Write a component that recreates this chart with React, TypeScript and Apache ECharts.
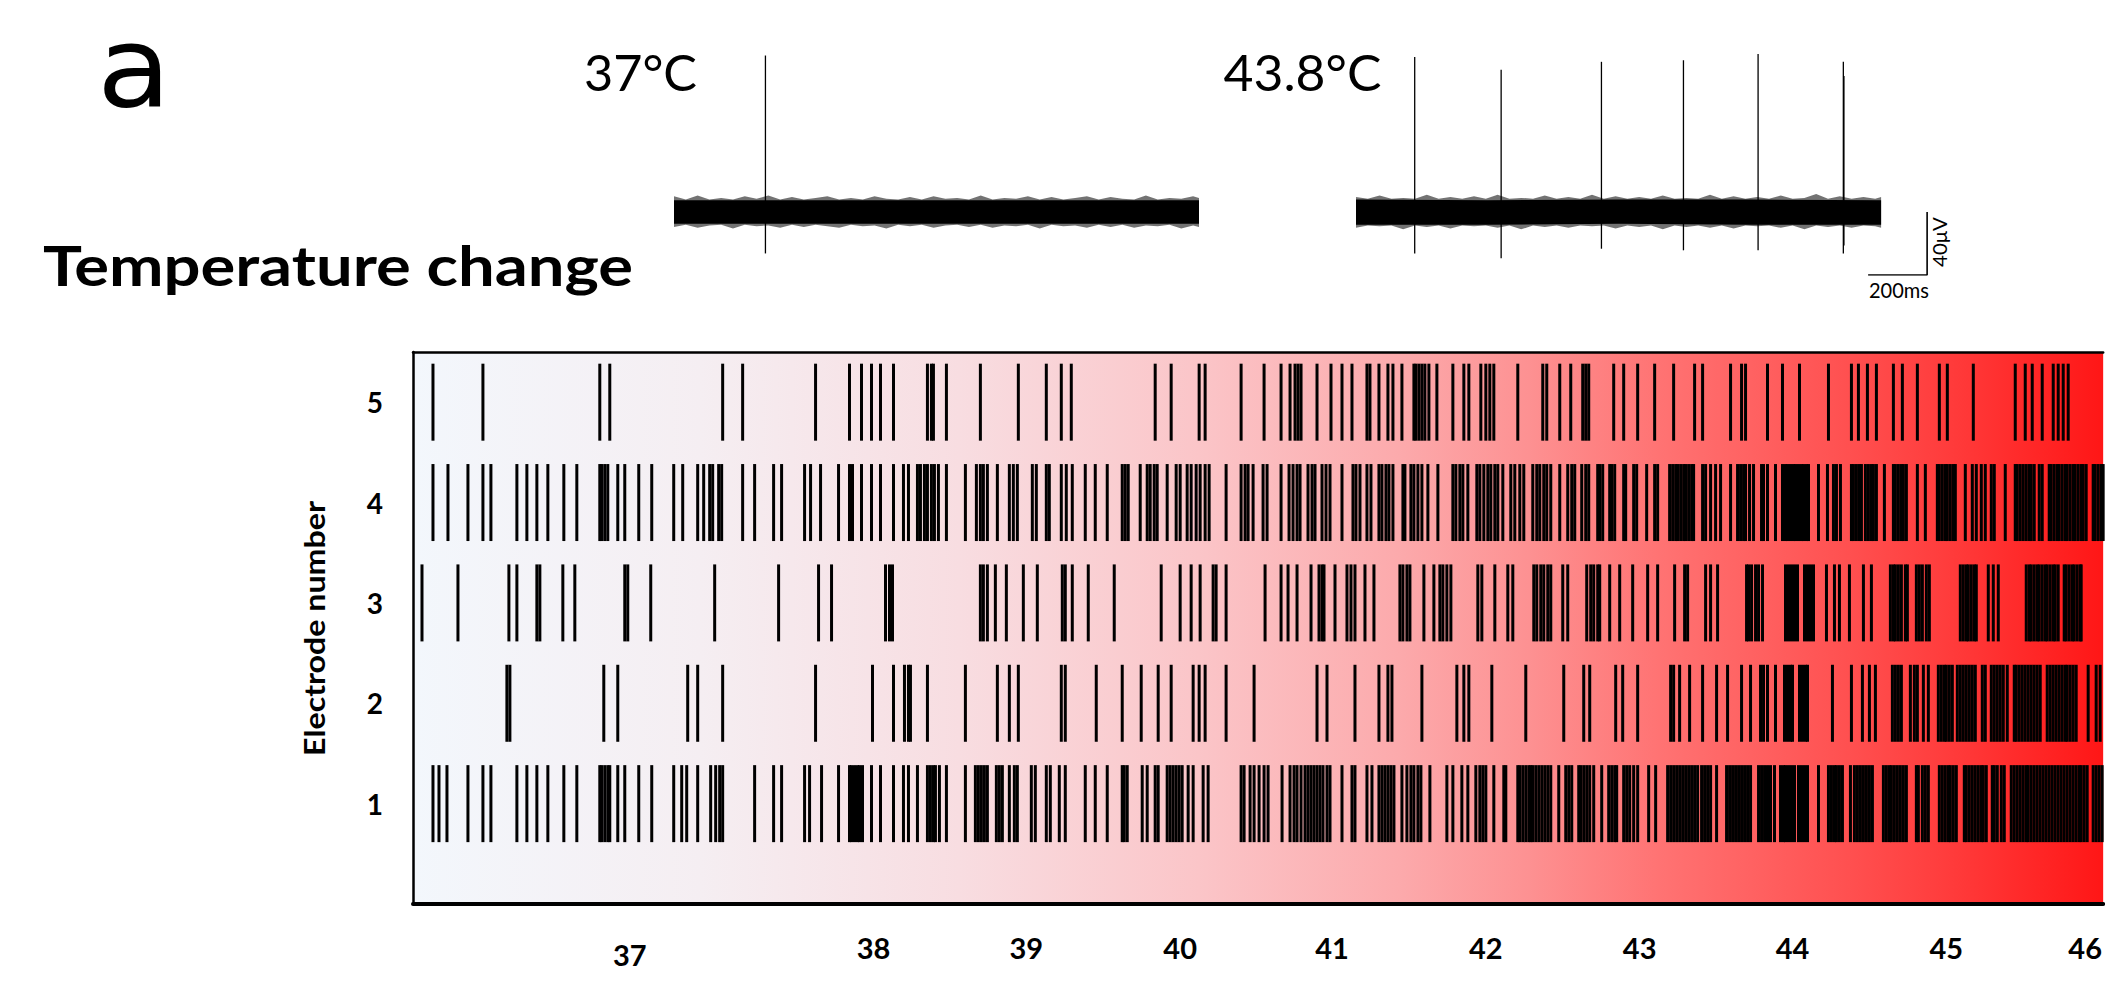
import React, { useEffect, useRef } from 'react';
import * as echarts from 'echarts';

// ---------- Raster data (time units along the recording, one unit = 1 px of the original plot) ----------
const electrodes = [1, 2, 3, 4, 5];

const spikesE1 = [20, 26, 34, 55, 70, 78, 104, 114, 124, 135, 151, 164, 187, 189, 192, 195, 197, 205, 212, 226, 239, 261, 269, 274, 285, 298, 303, 307, 310, 342, 361, 369, 392, 397, 409, 426, 437, 439, 442, 445, 447, 450, 459, 468, 481, 491, 496, 505, 515, 518, 521, 523, 527, 534, 553,
  563, 566, 569, 572, 575, 584, 587, 590, 597, 602, 605, 619, 623, 634, 638, 647, 653, 673, 683, 695, 710, 712, 715, 730, 735, 743, 746, 755, 758, 761, 764, 767, 770, 776, 781, 791, 796, 829, 832, 838, 842, 847, 852, 856, 870, 878, 882, 885, 889, 893, 896, 899, 902, 905, 908, 911, 915, 918, 930, 940, 943, 955, 960, 967, 970, 973, 976, 979, 982, 990, 995, 999, 1002, 1006, 1009, 1018, 1035, 1041, 1050, 1056, 1064, 1068, 1071, 1074, 1082, 1092, 1094, 1106, 1108, 1111, 1114,
  1117, 1119, 1121, 1124, 1127, 1130, 1133, 1136, 1139, 1147, 1154, 1157, 1160, 1167, 1169, 1172, 1175, 1178, 1182, 1190, 1197, 1200, 1203, 1205, 1212, 1215, 1218, 1222, 1226, 1237, 1244, 1256, 1259, 1262, 1265, 1268, 1271, 1274, 1277, 1280, 1283, 1286, 1290, 1293, 1296, 1299, 1305, 1315, 1318, 1321, 1324, 1327, 1330, 1333, 1336, 1339, 1347, 1350, 1353, 1356, 1359, 1363, 1369, 1372, 1374, 1377, 1380, 1383, 1387, 1390, 1393, 1396, 1407, 1417, 1420, 1423, 1425, 1428, 1431, 1439, 1443, 1446, 1449, 1452, 1455, 1458, 1461, 1472, 1475, 1478, 1480, 1483, 1486, 1489, 1492, 1495, 1505, 1507, 1511, 1514, 1517, 1528, 1531, 1534, 1537, 1539, 1542, 1545, 1553, 1555, 1558, 1561, 1564, 1567, 1570, 1572, 1575, 1581, 1583, 1586, 1590, 1593, 1600, 1603, 1606, 1609, 1612, 1615, 1617, 1620, 1623, 1626, 1629, 1632, 1635, 1638, 1641, 1644, 1647, 1650, 1653, 1656, 1659, 1662, 1665, 1668, 1670, 1673, 1676, 1682, 1685, 1688, 1691];

const spikesE2 = [94, 97, 191, 205, 275, 285, 310, 403, 460, 481, 492, 496, 498, 515, 553,
  585, 597, 606, 649, 653, 684, 710, 729, 746, 759, 781, 787, 793, 814, 842, 905, 915, 943, 967, 976, 980, 1010, 1045, 1052, 1057, 1080, 1114,
  1152, 1172, 1178, 1204, 1211, 1226, 1259, 1262, 1268, 1278, 1291, 1305, 1316, 1330, 1339, 1349, 1352, 1356, 1364, 1373, 1376, 1379, 1381, 1388, 1391, 1394, 1396, 1421, 1440, 1451, 1458, 1464, 1481, 1484, 1487, 1490, 1499, 1503, 1506, 1512, 1517, 1527, 1530, 1533, 1535, 1538, 1541, 1546, 1549, 1552, 1555, 1558, 1561, 1564, 1571, 1574, 1580, 1583, 1586, 1589, 1592, 1596, 1603, 1605, 1608, 1611, 1614, 1617, 1620, 1623, 1626, 1629, 1636, 1639, 1642, 1645, 1648, 1651, 1654, 1656, 1659, 1662, 1665, 1677, 1685, 1689];

const spikesE3 = [9, 45, 96, 104, 124, 127, 150, 162, 212, 215, 238, 302, 366, 406, 419, 473, 477, 480,
  568, 571, 575, 583, 594, 611, 625, 650, 653, 660, 676, 702, 749, 768, 779, 788, 801, 804, 814, 853, 869, 876, 885, 899, 907, 910, 912, 923, 935, 939, 943, 953, 962, 988, 991, 995, 998, 1012, 1022, 1028, 1031, 1035, 1039, 1066, 1070, 1083, 1096, 1101, 1122, 1125, 1129, 1132, 1136, 1139, 1151, 1156, 1175, 1179, 1182, 1186,
  1188, 1198, 1208, 1221, 1236, 1246, 1263, 1273, 1276, 1294, 1299, 1306, 1335, 1337, 1340, 1344, 1347, 1351, 1374, 1377, 1380, 1383, 1386, 1393, 1396, 1399, 1402, 1415, 1423, 1428, 1438, 1452, 1460, 1479, 1482, 1484, 1487, 1490, 1494, 1496, 1505, 1508, 1511, 1515, 1518, 1549, 1552, 1555, 1557, 1560, 1563, 1565, 1577, 1582, 1587, 1615, 1618, 1620, 1623, 1626, 1628, 1631, 1634, 1636, 1639, 1642, 1644, 1647, 1653, 1655, 1658, 1661, 1663, 1666, 1669, 1670];

const spikesE4 = [20, 35, 55, 70, 78, 104, 114, 124, 135, 151, 164, 187, 189, 192, 195, 205, 212, 226, 239, 261, 270, 285, 291, 297, 300, 306, 309, 330, 342, 361, 369, 392, 398, 408, 426, 437, 440, 449, 459, 468, 481, 491, 496, 505, 508, 512, 515, 519, 522, 526, 534, 553,
  564, 568, 571, 575, 585, 597, 601, 605, 620, 624, 634, 637, 649, 654, 660, 673, 683, 695, 710, 713, 716, 728, 735, 738, 742, 745, 755, 764, 768, 775, 779, 784, 788, 793, 797, 814, 829, 833, 836, 841, 851, 855, 869, 877, 881, 885, 888, 896, 900, 903, 910, 914, 918, 930, 941, 944, 948, 955, 959, 967, 970, 974, 977, 981, 991, 993, 999, 1002, 1006, 1010, 1016, 1026, 1041, 1044, 1048, 1051, 1056, 1065, 1068, 1072, 1076, 1079, 1083, 1086, 1091, 1099, 1103, 1108, 1112, 1121, 1125, 1128, 1132, 1135, 1139, 1148, 1156, 1160, 1163, 1170, 1174, 1177, 1186,
  1188, 1191, 1198, 1200, 1203, 1212, 1214, 1222, 1225, 1235, 1243, 1246, 1258, 1261, 1264, 1266, 1269, 1272, 1274, 1277, 1280, 1282, 1291, 1294, 1299, 1304, 1309, 1319, 1326, 1329, 1332, 1334, 1338, 1342, 1350, 1352, 1356, 1364, 1371, 1374, 1376, 1379, 1382, 1384, 1387, 1390, 1392, 1395, 1397, 1407, 1416, 1422, 1425, 1429, 1440, 1442, 1445, 1448, 1450, 1454, 1457, 1460, 1462, 1465, 1473, 1482, 1484, 1487, 1490, 1492, 1495, 1506, 1514, 1526, 1528, 1531, 1534, 1536, 1539, 1542, 1544, 1554, 1561, 1565, 1570, 1574, 1580, 1583, 1594, 1604, 1606, 1609, 1612, 1615, 1618, 1620, 1623, 1628, 1631, 1638, 1640, 1643, 1646, 1648, 1651, 1654, 1656, 1659, 1662, 1664, 1667, 1670, 1672, 1675, 1682, 1684, 1687, 1690, 1692];

const spikesE5 = [20, 70, 187, 197, 310, 330, 403, 437, 449, 459, 468, 481, 515, 519, 521, 534,
  568, 606, 634, 649, 659, 743, 759, 787, 793, 829, 852, 869, 878, 883, 886, 889, 905, 919, 930, 940, 955, 958, 967, 976, 981, 990, 1002, 1004, 1007, 1010, 1013, 1017, 1025, 1041, 1052, 1057, 1069, 1074, 1078, 1082, 1106, 1131, 1135, 1148, 1159, 1171, 1174, 1177,
  1202, 1212, 1226, 1243, 1262, 1283, 1291, 1319, 1330, 1334, 1356, 1371, 1388, 1417, 1440, 1447, 1456, 1465, 1482, 1491, 1506, 1528, 1536, 1562, 1604, 1614, 1621, 1631, 1642, 1647, 1652, 1657];

// temperature tick labels placed along the time axis
const tempTickTimes = [217, 461, 614, 768, 920, 1074, 1228, 1381, 1535, 1674];
const tempTickLabels = ['37', '38', '39', '40', '41', '42', '43', '44', '45', '46'];

// ---------- Example traces (ms, µV) ----------
// dense noise core
const coreTimes = [0, 445, 890, 1335, 1780];
const trace1CoreUpper = [7.5, 7.5, 7.5, 7.5, 7.5];
const trace1CoreLower = [-7.5, -7.5, -7.5, -7.5, -7.5];
const trace2CoreUpper = [8, 7.5, 8, 8, 7.5];
const trace2CoreLower = [-8, -8, -7.5, -8, -8];
// sparse noise fringe (outer envelope of noise excursions)
const fringeTimes = [0, 40, 80, 120, 160, 200, 240, 280, 320, 360, 400, 440, 480, 520, 560, 600, 640, 680, 720, 760, 800, 840, 880, 920, 960, 1000, 1040, 1080, 1120, 1160, 1200, 1240, 1280, 1320, 1360, 1400, 1440, 1480, 1520, 1560, 1600, 1640, 1680, 1720, 1760, 1780];
const trace1FringeUpper = [10, 8, 10.5, 8, 9, 8, 10, 8.5, 10.5, 8, 9.5, 8, 9, 10, 8, 9, 8, 10, 8.5, 8, 9.5, 8, 10, 8.5, 9, 8, 10.5, 8, 9, 8.5, 10, 8, 9.5, 8, 9, 10, 8, 9.5, 8.5, 8, 10.5, 8, 9, 8.5, 10, 9];
const trace1FringeLower = [-9.5, -8, -10, -8.5, -8, -10.5, -8, -9, -8.5, -10, -8, -9.5, -8, -9, -10, -8, -9, -8.5, -10.5, -8, -9, -8, -10, -8.5, -8, -9.5, -8, -10, -8.5, -9, -8, -10.5, -8, -9, -8.5, -10, -8, -9.5, -8, -10, -8.5, -9, -8, -10.5, -8.5, -9.5];
const trace2FringeUpper = [9.5, 8.5, 10.5, 8.5, 9, 8.5, 11, 8.5, 9.5, 8.5, 10, 8.5, 11, 8.5, 9, 8.5, 10.5, 8.5, 9.5, 8.5, 11, 8.5, 10, 8.5, 9.5, 8.5, 10.5, 8.5, 9, 8.5, 11, 8.5, 10, 8.5, 9.5, 8.5, 10.5, 8.5, 9, 11.5, 8.5, 10, 8.5, 9.5, 8.5, 9.5];
const trace2FringeLower = [-10, -8.5, -9, -8.5, -11, -8.5, -9.5, -8.5, -10.5, -8.5, -9, -8.5, -10, -8.5, -11, -8.5, -9.5, -8.5, -10, -8.5, -9, -8.5, -10.5, -8.5, -9.5, -8.5, -11, -8.5, -9.5, -8.5, -10, -8.5, -10.5, -8.5, -9, -8.5, -10, -8.5, -11, -8.5, -9.5, -8.5, -10, -8.5, -9, -10];
// [time ms, peak µV, trough µV]
const trace1Spikes = [[310, 99.5, -26.3]];
const trace2Spikes = [[199, 98.5, -26.3], [492, 90.5, -29.3], [832, 95.5, -23.3], [1110, 96.5, -24.3], [1363, 100.5, -24.3], [1652, 95.5, -26.3], [1654, 86.5, -21.3]];
const scaleBar = [[1736, -40], [1936, -40], [1936, 0]];

const FONT = "Lato, 'Noto Sans', sans-serif";
const FONT_A = "'DejaVu Sans', sans-serif";

function fitScale(text: string, weight: string, size: number, family: string, target: number) {
  const ctx = document.createElement('canvas').getContext('2d');
  if (!ctx) return 1;
  ctx.font = `${weight} ${size}px ${family}`;
  const w = ctx.measureText(text).width;
  return w > 0 ? target / w : 1;
}

function envSeries(xi: number, times: number[], upper: number[], lower: number[], fill: string) {
  return {
    type: 'custom',
    xAxisIndex: xi,
    yAxisIndex: xi,
    silent: true,
    data: [[0, 0]],
    renderItem: (_p: any, api: any) => {
      const pts: number[][] = [];
      for (let i = 0; i < times.length; i++) pts.push(api.coord([times[i], upper[i]]));
      for (let i = times.length - 1; i >= 0; i--) pts.push(api.coord([times[i], lower[i]]));
      return { type: 'polygon', shape: { points: pts }, style: { fill } };
    },
  };
}

function spikeSeries(xi: number, data: number[][]) {
  return {
    type: 'custom',
    xAxisIndex: xi,
    yAxisIndex: xi,
    silent: true,
    data,
    encode: { x: 0, y: [1, 2] },
    renderItem: (_p: any, api: any) => {
      const a = api.coord([api.value(0), api.value(1)]);
      const b = api.coord([api.value(0), api.value(2)]);
      return { type: 'line', shape: { x1: a[0], y1: a[1], x2: b[0], y2: b[1] }, style: { stroke: '#000', lineWidth: 1.3 } };
    },
  };
}

export default function App() {
  const ref = useRef<HTMLDivElement>(null);

  useEffect(() => {
    if (!ref.current) return;
    const chart = echarts.init(ref.current, null, { renderer: 'svg' });

    const rows = [spikesE1, spikesE2, spikesE3, spikesE4, spikesE5];
    const gradient = new echarts.graphic.LinearGradient(0, 0, 1, 0, [
      { offset: 0, color: '#f3f7fc' },
      { offset: 0.17, color: '#f5eef2' },
      { offset: 0.323, color: '#f8dde1' },
      { offset: 0.465, color: '#fbc5c8' },
      { offset: 0.583, color: '#fcaaac' },
      { offset: 0.66, color: '#fd9192' },
      { offset: 0.737, color: '#ff7373' },
      { offset: 0.849, color: '#ff5050' },
      { offset: 0.908, color: '#ff3c3c' },
      { offset: 1, color: '#ff1616' },
    ]);

    const texts = [
      { text: 'a', weight: 'normal', size: 113, fam: FONT_A, cx: 134, cy: 67, w: 74, rot: 0 },
      { text: '37°C', weight: 'normal', size: 50, fam: FONT, cx: 640.5, cy: 71.5, w: 113, rot: 0 },
      { text: '43.8°C', weight: 'normal', size: 50, fam: FONT, cx: 1302.5, cy: 71.5, w: 158, rot: 0 },
      { text: 'Temperature change', weight: 'bold', size: 56, fam: FONT, cx: 338, cy: 264, w: 590, rot: 0 },
      { text: 'Electrode number', weight: 'bold', size: 28, fam: FONT, cx: 314, cy: 628.5, w: 255, rot: Math.PI / 2 },
      { text: '200ms', weight: 'normal', size: 21, fam: FONT, cx: 1899, cy: 290, w: 60, rot: 0 },
      { text: '40μV', weight: 'normal', size: 19, fam: FONT, cx: 1939, cy: 242, w: 50, rot: Math.PI / 2 },
    ];

    const option: any = {
      animation: false,
      backgroundColor: '#ffffff',
      grid: [
        { left: 413, top: 352, right: 0, height: 552, show: true, backgroundColor: gradient, borderWidth: 0 },
        { left: 674, top: 39, width: 525, height: 236 },
        { left: 1356, top: 39, width: 590, height: 236 },
      ],
      xAxis: [
        {
          type: 'value', gridIndex: 0, min: 0, max: 1692,
          axisLine: { show: true, onZero: false, lineStyle: { color: '#000', width: 4 } },
          axisTick: { show: false },
          splitLine: { show: false },
          axisLabel: {
            customValues: tempTickTimes,
            margin: 29,
            color: '#000',
            fontSize: 29,
            fontWeight: 'bold',
            fontFamily: FONT,
            formatter: (v: number) => {
              const i = tempTickTimes.indexOf(Math.round(v));
              if (i < 0) return '';
              return i === 0 ? `{low|${tempTickLabels[i]}}` : `{n|${tempTickLabels[i]}}`;
            },
            rich: {
              n: { fontSize: 29, fontWeight: 'bold', fontFamily: FONT, color: '#000' },
              low: { fontSize: 29, fontWeight: 'bold', fontFamily: FONT, color: '#000', padding: [7, 0, 0, 0] },
            },
          },
        },
        { type: 'value', gridIndex: 1, min: 0, max: 1780, show: false },
        { type: 'value', gridIndex: 2, min: 0, max: 2000, show: false },
        {
          type: 'value', gridIndex: 0, position: 'top', min: 0, max: 1692,
          axisLine: { show: true, onZero: false, lineStyle: { color: '#000', width: 2.5 } },
          axisTick: { show: false },
          axisLabel: { show: false },
          splitLine: { show: false },
        },
      ],
      yAxis: [
        {
          type: 'value', gridIndex: 0, min: 0, max: 5.5, interval: 1,
          axisLine: { show: true, onZero: false, lineStyle: { color: '#000', width: 2.5 } },
          axisTick: { show: false },
          splitLine: { show: false },
          axisLabel: {
            customValues: electrodes,
            margin: 30,
            color: '#000',
            fontSize: 28,
            fontWeight: 'bold',
            fontFamily: FONT,
          },
        },
        { type: 'value', gridIndex: 1, min: -40, max: 110, show: false },
        { type: 'value', gridIndex: 2, min: -40, max: 110, show: false },
      ],
      series: [
        ...rows.map((arr, i) => ({
          type: 'scatter',
          name: `Electrode ${electrodes[i]}`,
          xAxisIndex: 0,
          yAxisIndex: 0,
          symbol: 'rect',
          symbolSize: [3, 77],
          silent: true,
          itemStyle: { color: '#000', opacity: 1 },
          data: arr.map((t) => [t, electrodes[i]]),
        })),
        envSeries(1, fringeTimes, trace1FringeUpper, trace1FringeLower, 'rgba(0,0,0,0.55)'),
        envSeries(2, fringeTimes, trace2FringeUpper, trace2FringeLower, 'rgba(0,0,0,0.55)'),
        envSeries(1, coreTimes, trace1CoreUpper, trace1CoreLower, '#000'),
        envSeries(2, coreTimes, trace2CoreUpper, trace2CoreLower, '#000'),
        spikeSeries(1, trace1Spikes),
        spikeSeries(2, trace2Spikes),
        {
          type: 'line',
          xAxisIndex: 2,
          yAxisIndex: 2,
          data: scaleBar,
          symbol: 'none',
          silent: true,
          lineStyle: { color: '#000', width: 1.6 },
        },
      ],
      graphic: texts.map((t) => ({
        type: 'text',
        x: t.cx,
        y: t.cy,
        rotation: t.rot,
        scaleX: fitScale(t.text, t.weight, t.size, t.fam, t.w),
        z: 100,
        silent: true,
        style: {
          text: t.text,
          fontSize: t.size,
          fontWeight: t.weight,
          fontFamily: t.fam,
          fill: '#000',
          align: 'center',
          verticalAlign: 'middle',
        },
      })),
    };

    chart.setOption(option);
    return () => chart.dispose();
  }, []);

  return (
    <div
      ref={ref}
      style={{ position: 'absolute', left: 0, top: 0, width: 2105, height: 989, background: '#fff' }}
    />
  );
}
